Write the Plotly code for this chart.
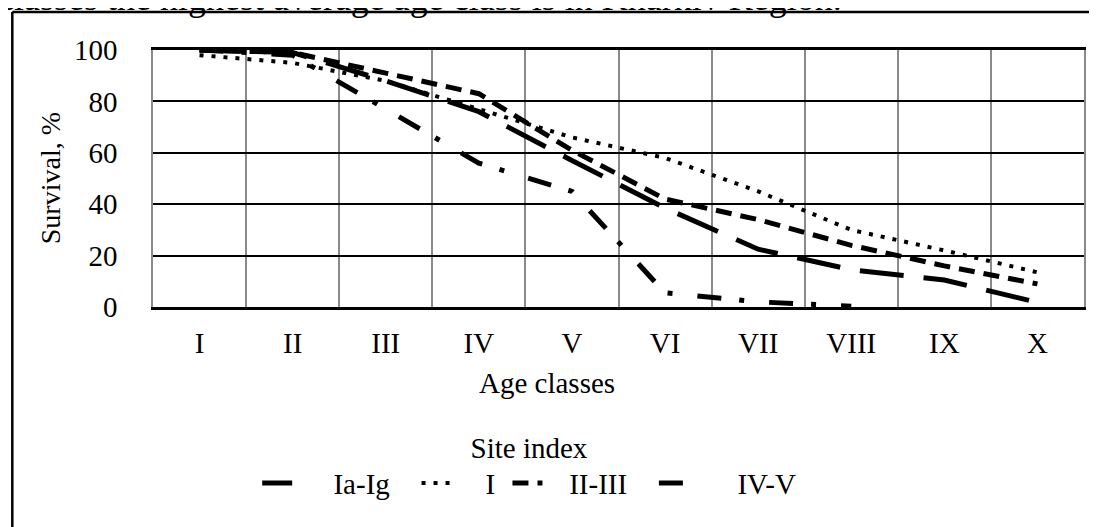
import plotly.graph_objects as go

# age classes (x) and survival, % per site index group
age_classes = ["I", "II", "III", "IV", "V", "VI", "VII", "VIII", "IX", "X"]

surv_ia_ig = [100, 99, 88, 76, 57, 38.5, 22.5, 14.5, 10.5, 1.8]
surv_i = [98, 95, 88, 77, 66, 58, 45, 30, 22, 13.5]
surv_ii_iii = [100, 99, 91, 83, 61, 42, 34, 24, 16, 9]
surv_iv_v = [100, 98, 77, 56, 45, 5.5, 2, 0.3]

FONT = "Liberation Serif"
NB = "\u00a0"

# the page body has an 8px margin, so work in reference pixels minus 8
OFF = 8
W, H = 1097 - OFF, 527 - OFF
L, R, T, B = 153 - OFF, 1086 - OFF, 50 - OFF, 307 - OFF
pw, ph = R - L, B - T


def px_x(p):
    # reference pixel x -> paper fraction
    return (p - OFF - L) / pw


def px_y(p):
    # reference pixel y -> paper fraction
    return (B - (p - OFF)) / ph


fig = go.Figure()

fig.add_trace(go.Scatter(
    x=age_classes, y=surv_ia_ig, name=NB * 5 + "Ia-Ig" + NB * 3, mode="lines",
    line=dict(color="black", width=5, dash="44px,20px"),
))
fig.add_trace(go.Scatter(
    x=age_classes, y=surv_i, name=NB * 4 + "I" + NB, mode="lines",
    line=dict(color="black", width=4, dash="4px,8px"),
))
fig.add_trace(go.Scatter(
    x=age_classes, y=surv_ii_iii, name=NB * 3 + "II-III" + NB * 3, mode="lines",
    line=dict(color="black", width=5, dash="16px,9px"),
))
fig.add_trace(go.Scatter(
    x=age_classes[:len(surv_iv_v)], y=surv_iv_v, name=NB * 6 + "IV-V", mode="lines",
    line=dict(color="black", width=5, dash="24px,18px,5px,25px"),
))

# outer frame of the scanned figure (left and top edges only visible)
fig.add_shape(type="line", xref="paper", yref="paper",
              x0=px_x(12), x1=px_x(12), y0=px_y(12), y1=px_y(600),
              line=dict(color="black", width=2.5))
fig.add_shape(type="line", xref="paper", yref="paper",
              x0=px_x(12), x1=px_x(1200), y0=px_y(12), y1=px_y(12),
              line=dict(color="black", width=2.5))

# cut-off line of the surrounding document text
fig.add_annotation(
    text="classes the highest average age class is in Kharkiv Region.",
    xref="paper", yref="paper", x=px_x(-4), y=px_y(-2),
    xanchor="left", yanchor="middle", showarrow=False,
    font=dict(family=FONT, size=36, color="black"),
)

# axis titles
fig.add_annotation(
    text="Age classes", xref="paper", yref="paper",
    x=px_x(548), y=px_y(383), xanchor="center", yanchor="middle",
    showarrow=False, font=dict(family=FONT, size=29, color="black"),
)
fig.add_annotation(
    text="Survival, %", xref="paper", yref="paper", textangle=-90,
    x=px_x(50), y=px_y(178), xanchor="center", yanchor="middle",
    showarrow=False, font=dict(family=FONT, size=28, color="black"),
)

fig.update_layout(
    width=W, height=H,
    margin=dict(l=L, r=W - R, t=T, b=H - B, pad=0),
    paper_bgcolor="white", plot_bgcolor="white",
    font=dict(family=FONT, size=29, color="black"),
    showlegend=True,
    legend=dict(
        orientation="h", x=px_x(530), xanchor="center",
        y=px_y(420), yanchor="top",
        title=dict(text="Site index", side="top center",
                   font=dict(family=FONT, size=29)),
        font=dict(family=FONT, size=29),
        bgcolor="rgba(0,0,0,0)",
    ),
    xaxis=dict(
        type="category", range=[-0.5, 9.5], tickson="boundaries",
        showgrid=True, gridcolor="#8a8a8a", gridwidth=1.5,
        showline=True, linecolor="black", linewidth=2.5, mirror=True,
        ticks="", ticklabelstandoff=8,
        tickfont=dict(size=29),
    ),
    yaxis=dict(
        range=[0, 100], tickvals=[0, 20, 40, 60, 80, 100],
        showgrid=True, gridcolor="black", gridwidth=2, zeroline=False,
        showline=True, linecolor="#8a8a8a", linewidth=1.5, mirror=True,
        ticks="", ticklabelstandoff=28,
        tickfont=dict(size=29),
    ),
)

fig.write_html("out.html")
